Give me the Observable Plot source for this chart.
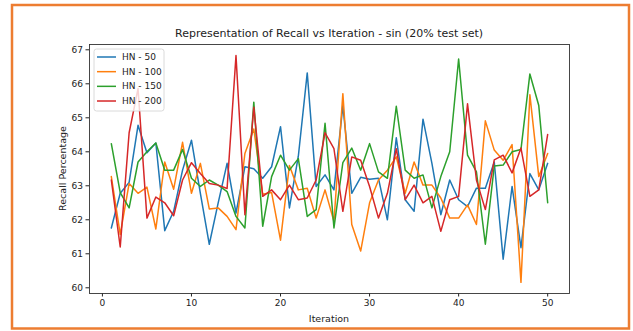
<!DOCTYPE html>
<html><head><meta charset="utf-8">
<script src="https://cdn.jsdelivr.net/npm/d3@7"></script>
<script src="https://cdn.jsdelivr.net/npm/@observablehq/plot@0.6"></script>
<style>body{margin:0;background:#fff;} svg{display:block;}</style>
</head><body><div id="chart"></div>
<script>
const iterations = [1,2,3,4,5,6,7,8,9,10,11,12,13,14,15,16,17,18,19,20,21,22,23,24,25,26,27,28,29,30,31,32,33,34,35,36,37,38,39,40,41,42,43,44,45,46,47,48,49,50];
const hn50 = [61.76,62.78,63.1,64.78,63.97,64.26,61.68,62.25,63.46,64.34,62.78,61.28,62.5,63.66,62.2,63.56,63.5,63.22,63.56,64.74,62.35,63.87,66.32,62.98,63.32,62.88,65.36,62.78,63.25,63.19,63.22,62.0,64.41,62.59,62.25,64.96,63.66,62.15,63.17,62.59,62.39,62.93,62.93,63.7,60.84,62.98,61.18,63.36,62.88,63.66];
const hn100 = [63.27,61.57,63.07,62.78,62.96,61.73,63.7,62.9,64.28,62.78,63.66,62.32,62.35,62.1,61.71,63.95,64.67,62.75,62.8,61.4,63.6,62.88,62.93,62.05,62.88,61.95,65.71,61.86,61.08,62.5,63.17,63.46,63.85,62.78,63.7,63.02,63.02,62.64,62.05,62.05,62.44,61.86,64.91,64.05,63.75,64.21,60.16,65.68,63.27,63.95];
const hn150 = [64.24,62.8,62.35,63.7,64.0,64.26,63.46,63.46,64.07,63.22,62.98,63.17,63.02,62.83,62.1,61.76,65.46,61.81,63.27,63.9,63.46,63.8,62.1,62.3,64.84,61.76,63.68,64.11,63.46,64.24,63.41,63.22,65.34,63.46,63.22,63.32,62.35,63.27,64.0,66.73,63.9,63.41,61.28,63.58,63.61,64.0,64.07,66.29,65.36,62.5];
const hn200 = [63.17,61.2,64.56,65.86,62.05,62.67,62.5,62.12,63.17,63.68,63.36,63.07,63.02,62.92,66.83,62.15,65.31,62.69,62.88,62.59,63.02,62.59,62.64,63.17,64.56,64.09,62.25,63.85,63.75,62.98,62.05,62.78,64.09,62.59,63.02,62.5,62.69,61.66,62.59,62.69,65.41,63.17,62.3,63.76,63.9,63.38,64.11,62.69,62.88,64.51];
const seriesNames = ["HN - 50","HN - 100","HN - 150","HN - 200"];
const seriesColors = ["#1f77b4","#ff7f0e","#2ca02c","#d62728"];
const xTicks = [0,10,20,30,40,50];
const yTicks = [60,61,62,63,64,65,66,67];
const titleText = "Representation of Recall vs Iteration - sin (20% test set)";
const xLabel = "Iteration";
const yLabel = "Recall Percentage";

const allSeries = [hn50, hn100, hn150, hn200];
const data = allSeries.flatMap((vals, k) => vals.map((v, i) => ({iter: iterations[i], v, name: seriesNames[k]})));

const W = 633, H = 331;
const mL = 89, mR = 64, mT = 44, mB = 38;
const font = "'DejaVu Sans', sans-serif";

const svg = Plot.plot({
  width: W, height: H,
  marginLeft: mL, marginRight: mR, marginTop: mT, marginBottom: mB,
  style: {fontFamily: font, fontSize: "9px", background: "white", color: "#222"},
  x: {domain: [-1.45, 52.45]},
  y: {domain: [59.832, 67.156]},
  color: {domain: seriesNames, range: seriesColors},
  marks: [
    Plot.axisX({ticks: xTicks, tickSize: 3.5, tickPadding: 3, label: null, fontSize: 9}),
    Plot.axisY({ticks: yTicks, tickSize: 3.5, tickPadding: 3, label: null, fontSize: 9}),
    Plot.lineY(data, {x: "iter", y: "v", z: "name", stroke: "name", strokeWidth: 1.5, strokeLinejoin: "round"}),
    Plot.frame({stroke: "#333", strokeWidth: 0.9})
  ]
});

const s = d3.select(svg);
// border
s.append("rect").attr("x", 12).attr("y", 5).attr("width", 617).attr("height", 323.5)
  .attr("fill", "none").attr("stroke", "#ED7D31").attr("stroke-width", 2.5);
// title
s.append("text").attr("x", mL + (W - mL - mR) / 2).attr("y", 37).attr("text-anchor", "middle")
  .attr("font-family", font).attr("font-size", 11).attr("fill", "#222").text(titleText);
// x label
s.append("text").attr("x", mL + (W - mL - mR) / 2).attr("y", 322).attr("text-anchor", "middle")
  .attr("font-family", font).attr("font-size", 9.5).attr("fill", "#222").text(xLabel);
// y label
s.append("text").attr("transform", `translate(66,${mT + (H - mT - mB) / 2}) rotate(-90)`).attr("text-anchor", "middle")
  .attr("font-family", font).attr("font-size", 9.5).attr("fill", "#222").text(yLabel);
// legend
const lg = s.append("g").attr("transform", "translate(94,49)");
lg.append("rect").attr("width", 70).attr("height", 62).attr("rx", 2.5)
  .attr("fill", "white").attr("fill-opacity", 0.8).attr("stroke", "#d0d0d0").attr("stroke-width", 0.8);
seriesNames.forEach((n, k) => {
  const y = 8 + k * 14.67;
  lg.append("line").attr("x1", 3).attr("x2", 22).attr("y1", y).attr("y2", y)
    .attr("stroke", seriesColors[k]).attr("stroke-width", 1.5);
  lg.append("text").attr("x", 28).attr("y", y).attr("dy", "0.35em").attr("text-anchor", "start")
    .attr("font-family", font).attr("font-size", 9).attr("fill", "#222").text(n);
});

document.getElementById("chart").append(svg);
</script>
</body></html>
